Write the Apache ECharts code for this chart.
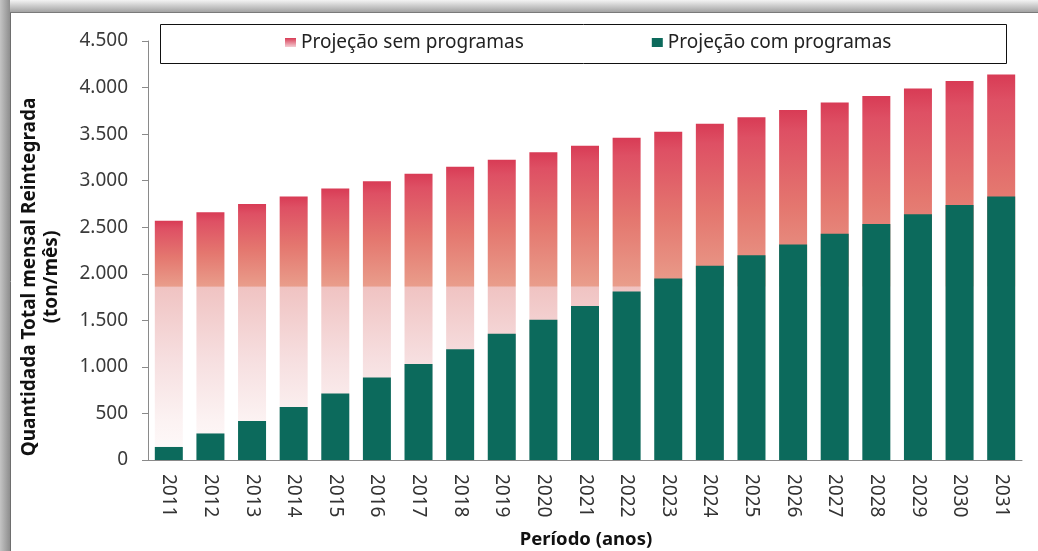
<!DOCTYPE html>
<html>
<head>
<meta charset="utf-8">
<title>Projeção da quantidade mensal reintegrada</title>
<script src="https://cdn.jsdelivr.net/npm/echarts@6/dist/echarts.min.js"></script>
<style>
  html, body { margin: 0; padding: 0; background: #ffffff; }
  #chart { width: 1038px; height: 551px; }
</style>
</head>
<body>
<div id="chart"></div>
<script>
// Years on the category axis
const anos = ['2011','2012','2013','2014','2015','2016','2017','2018','2019','2020',
              '2021','2022','2023','2024','2025','2026','2027','2028','2029','2030','2031'];

// Monthly reintegrated quantity (ton/mês)
const semProgramas = [2570, 2660, 2750, 2830, 2915, 2995, 3075, 3150, 3225, 3305,
                      3375, 3460, 3525, 3610, 3680, 3760, 3840, 3910, 3990, 4070, 4140];
const comProgramas = [140, 285, 420, 570, 715, 885, 1030, 1190, 1355, 1505,
                      1655, 1810, 1950, 2085, 2200, 2315, 2430, 2535, 2640, 2740, 2830];

// Value-axis ticks
const yMin = 0, yMax = 4500, yStep = 500;

const FONT = 'Noto Sans';

// Red-to-white fill of each "sem programas" bar, with the shading break near 1.860
function redFill(v) {
  const edge = Math.max(0.02, 1 - 1860 / v);
  const at = (val) => Math.min(0.999, Math.max(edge + 0.003, 1 - val / v));
  return new echarts.graphic.LinearGradient(0, 0, 0, 1, [
    { offset: 0, color: '#d83b55' },
    { offset: edge * 0.12, color: '#de5064' },
    { offset: edge * 0.55, color: '#e4776f' },
    { offset: edge - 0.002, color: '#e99d8b' },
    { offset: edge, color: '#f0c3c2' },
    { offset: at(1100), color: '#f6dedf' },
    { offset: at(400), color: '#fcf3f3' },
    { offset: 1, color: '#fefbfb' }
  ]);
}

const legendRed = new echarts.graphic.LinearGradient(0, 0, 0, 1, [
  { offset: 0, color: '#d83b55' },
  { offset: 1, color: '#f4cdd3' }
]);

const chart = echarts.init(document.getElementById('chart'), null, { renderer: 'canvas' });

chart.setOption({
  backgroundColor: '#ffffff',
  animation: false,
  graphic: [
    // frame shadow along the top and left edges
    { type: 'rect', z: -10, silent: true, shape: { x: 0, y: 0, width: 1038, height: 13 },
      style: { fill: new echarts.graphic.LinearGradient(0, 0, 0, 1, [
        { offset: 0, color: '#f3f3f3' }, { offset: 1, color: '#9c9c9c' }]) } },
    { type: 'rect', z: -9, silent: true, shape: { x: 0, y: 0, width: 10, height: 551 },
      style: { fill: new echarts.graphic.LinearGradient(0, 0, 1, 0, [
        { offset: 0, color: '#c4c4c4' }, { offset: 1, color: '#8e8e8e' }]) } },
    { type: 'line', z: -8, silent: true, shape: { x1: 10.5, y1: 12, x2: 10.5, y2: 551 },
      style: { stroke: '#6e6e6e', lineWidth: 1 } },
    { type: 'line', z: -8, silent: true, shape: { x1: 10, y1: 12.5, x2: 1038, y2: 12.5 },
      style: { stroke: '#7a7a7a', lineWidth: 1 } },
    // legend box
    { type: 'rect', z: -5, silent: true, shape: { x: 160.5, y: 24.5, width: 846, height: 39 },
      style: { fill: '#ffffff', stroke: '#111111', lineWidth: 1 } },
    // axis titles
    { type: 'text', silent: true, x: 41, y: 277, rotation: Math.PI / 2,
      style: { text: 'Quantidada Total mensal Reintegrada\n(ton/mês)', font: 'bold 19px "' + FONT + '"',
               fill: '#111111', align: 'center', verticalAlign: 'middle', lineHeight: 22 } },
    { type: 'text', silent: true, x: 586, y: 540,
      style: { text: 'Período (anos)', font: 'bold 18.5px "' + FONT + '"',
               fill: '#111111', align: 'center', verticalAlign: 'middle' } }
  ],
  legend: {
    left: 285,
    top: 33,
    padding: 0,
    itemGap: 128,
    itemWidth: 11,
    itemHeight: 9,
    icon: 'rect',
    textStyle: { fontFamily: FONT, fontSize: 19, color: '#222222' },
    data: ['Projeção sem programas', 'Projeção com programas']
  },
  grid: { left: 148, right: 16, top: 41, bottom: 91, containLabel: false },
  xAxis: {
    type: 'category',
    data: anos,
    axisLine: { lineStyle: { color: '#8a8a8a' } },
    axisTick: { length: 6, lineStyle: { color: '#8a8a8a' } },
    axisLabel: { rotate: -90, margin: 14, fontFamily: FONT, fontSize: 19, color: '#333333' }
  },
  yAxis: {
    type: 'value',
    min: yMin, max: yMax, interval: yStep,
    splitLine: { show: false },
    axisLine: { show: true, lineStyle: { color: '#8a8a8a' } },
    axisTick: { show: true, length: 6, lineStyle: { color: '#8a8a8a' } },
    axisLabel: {
      margin: 20, fontFamily: FONT, fontSize: 19, color: '#3a3a3a',
      formatter: (v) => String(v).replace(/\B(?=(\d{3})+(?!\d))/g, '.')
    }
  },
  series: [
    {
      name: 'Projeção sem programas',
      type: 'bar',
      barWidth: 28,
      barGap: '-100%',
      itemStyle: { color: legendRed },
      data: semProgramas.map(v => ({ value: v, itemStyle: { color: redFill(v) } }))
    },
    {
      name: 'Projeção com programas',
      type: 'bar',
      barWidth: 28,
      barGap: '-100%',
      itemStyle: { color: '#0c6a5c' },
      data: comProgramas
    }
  ]
});
</script>
</body>
</html>
